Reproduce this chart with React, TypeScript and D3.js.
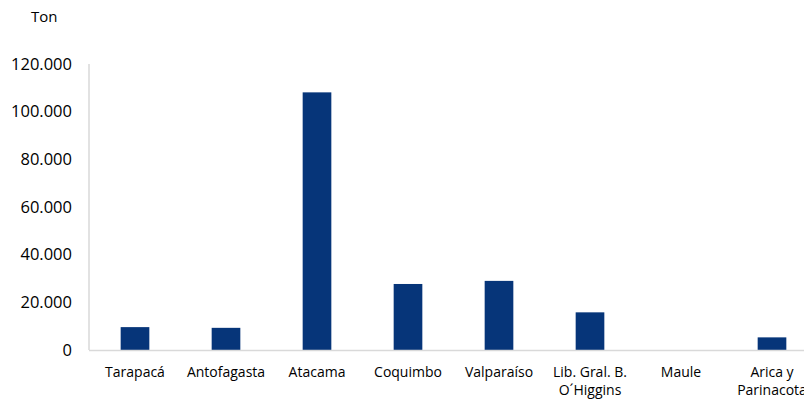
import React from "react";
import * as d3 from "d3";

const categories: string[][] = [
  ["Tarapacá"],
  ["Antofagasta"],
  ["Atacama"],
  ["Coquimbo"],
  ["Valparaíso"],
  ["Lib. Gral. B.", "O´Higgins"],
  ["Maule"],
  ["Arica y", "Parinacota"],
];
const values: number[] = [9600, 9300, 108100, 27700, 29000, 15800, 0, 5300];
const yTicks: number[] = [0, 20000, 40000, 60000, 80000, 100000, 120000];
const unitLabel = "Ton";

const W = 804;
const H = 400;
const fmt = (v: number) => (v === 0 ? "0" : d3.format(",")(v).replace(/,/g, "."));

export default function App() {
  const ids = categories.map((_, i) => String(i));
  const x = d3
    .scaleBand<string>()
    .domain(ids)
    .range([89.5, 817.5])
    .paddingInner(0.685)
    .paddingOuter(0.3425);
  const y = d3.scaleLinear().domain([0, 120000]).range([350, 64]);
  const font = "'Open Sans', sans-serif";
  return (
    <svg
      width={W}
      height={H}
      style={{ position: "absolute", left: 0, top: 0, display: "block", background: "#fff" }}
    >
      <text x={31} y={22} fontFamily={font} fontSize={15} fill="#000">
        {unitLabel}
      </text>
      {yTicks.map((t) => (
        <text
          key={t}
          x={72}
          y={y(t)}
          dy="0.35em"
          textAnchor="end"
          fontFamily={font}
          fontSize={16.5}
          fill="#000"
        >
          {fmt(t)}
        </text>
      ))}
      {values.map((v, i) => (
        <rect
          key={i}
          x={x(String(i))}
          y={y(v)}
          width={x.bandwidth()}
          height={y(0) - y(v)}
          fill="#063579"
        />
      ))}
      <line x1={89} x2={89} y1={y(120000)} y2={y(0)} stroke="#d9d9d9" strokeWidth={1.5} />
      <line x1={89} x2={W} y1={y(0) + 0.5} y2={y(0) + 0.5} stroke="#d9d9d9" strokeWidth={1.5} />
      {categories.map((lines, i) => (
        <text
          key={i}
          x={(x(String(i)) as number) + x.bandwidth() / 2}
          y={376.5}
          textAnchor="middle"
          fontFamily={font}
          fontSize={14}
          fill="#000"
        >
          {lines.map((l, j) => (
            <tspan key={j} x={(x(String(i)) as number) + x.bandwidth() / 2} dy={j === 0 ? 0 : 18.5}>
              {l}
            </tspan>
          ))}
        </text>
      ))}
    </svg>
  );
}
